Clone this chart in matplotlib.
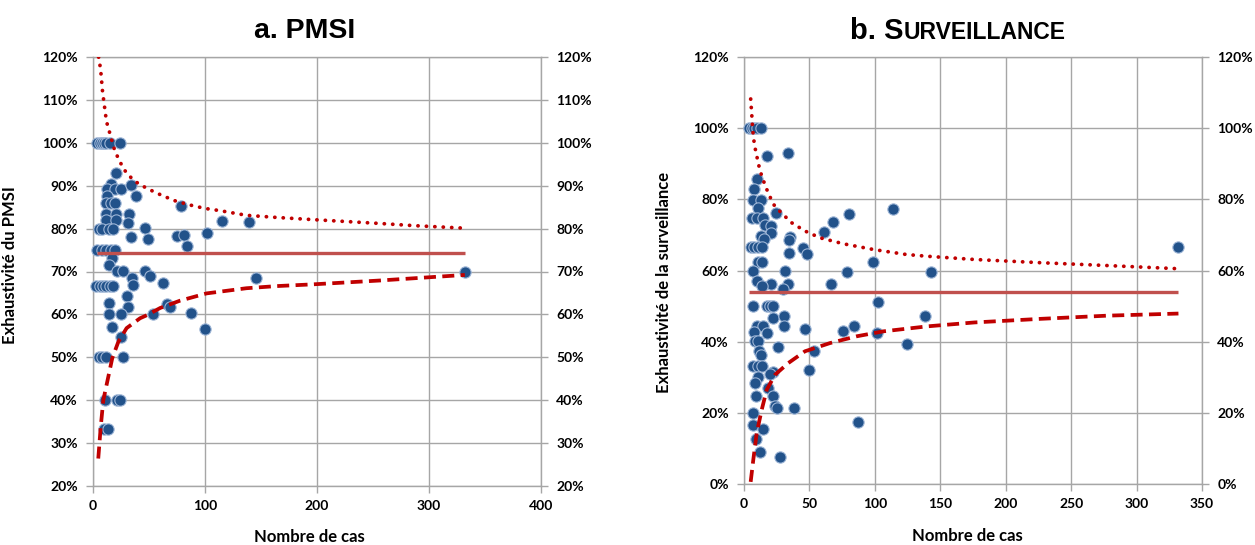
import matplotlib
matplotlib.use('Agg')
import matplotlib.pyplot as plt
from matplotlib.ticker import FuncFormatter
from matplotlib.font_manager import FontProperties
from matplotlib.offsetbox import TextArea, HPacker, AnchoredOffsetbox

# ---------------- data ----------------
# Panel a (PMSI): number of cases and completeness (%)
pmsi_n = [4, 6, 8, 10, 12, 15, 24,
          20.5, 16, 12.2, 19.6, 25, 34, 38.4, 12.2, 12, 16, 20, 11.6, 20.5, 32, 11.6, 20.5, 31,
          5, 8, 14, 18,
          46.4, 34, 48.8, 74.7, 81, 84, 102, 115, 139, 79,
          4, 8, 12, 16, 20,
          17.3, 14.6, 21.7, 27, 46.7, 51, 35, 36,
          3, 6, 9, 12, 15, 18,
          62.8, 145.5, 30.6, 14.6, 31, 66, 69, 14.6, 24.7, 54, 87.5, 16.7, 100, 24.7,
          5, 8, 12, 27,
          10.7, 21.7, 24,
          9.8, 13.7,
          332]
pmsi_pct = [100, 100, 100, 100, 100, 100, 100,
            93.0, 90.3, 89.2, 89.2, 89.2, 90.1, 87.6, 87.6, 85.9, 85.9, 85.9, 83.4, 83.4, 83.4, 82.0, 82.0, 81.2,
            80, 80, 80, 80,
            80.1, 78.1, 77.6, 78.3, 78.5, 76.0, 79.0, 81.8, 81.6, 85.3,
            75, 75, 75, 75, 75,
            73.1, 71.5, 70.1, 70.1, 70.2, 69.0, 68.4, 66.9,
            66.7, 66.7, 66.7, 66.7, 66.7, 66.7,
            67.4, 68.6, 64.4, 62.6, 61.7, 62.4, 61.8, 60.1, 60.1, 60.1, 60.3, 57.1, 56.5, 54.8,
            50, 50, 50, 50,
            40, 40, 40,
            33.3, 33.3,
            70.0]
pmsi_mean = 74.2
pmsi_mean_n = [4, 332]
pmsi_up_n = [5, 6, 7, 8.5, 10.5, 12, 15.8, 19.6, 25.6, 30, 37.5, 47.9, 61, 73, 86.6, 100, 113, 137, 164, 196, 256, 286, 332]
pmsi_up = [120, 118.5, 116.5, 112, 108, 105, 101.5, 98, 94.8, 92.9, 91, 89.4, 87.8, 86.5, 85.5, 84.7, 84.2, 83.1, 82.6, 82.1, 81.2, 80.7, 80.1]
pmsi_lo_n = [4.7, 6.9, 9.2, 13.7, 17.2, 22.6, 30, 42, 48, 60, 77.7, 101.5, 137, 164, 196, 256, 332]
pmsi_lo = [26.4, 33.8, 40, 45.5, 49.8, 53.6, 56.8, 59.1, 59.8, 61.5, 63.2, 64.9, 66.1, 66.6, 67.0, 67.9, 69.2]

# Panel b (Surveillance)
surv_n = [4, 6, 8, 10, 13,
          17.4, 33.4, 10.2, 7.6, 6.6, 12.8, 10.4, 5.9, 9.7, 14.8, 24.5, 80.3, 113.7, 68.3, 16, 20.4, 20.6,
          12.8, 15.3, 35, 34.4, 61.4, 45.3, 48.4,
          5, 8, 11, 14,
          34.4, 11, 14, 98.9, 6.6, 31.3, 79, 143, 9.7, 20.6, 33.4, 66.5, 13.5, 30,
          7.1, 17.4, 19.9, 21.9,
          102.2, 138.4, 22.4, 30.6, 9.7, 14.8, 17.8, 30.6, 7.9, 46.6, 75.5, 84.1, 101.5, 124.4, 8.4, 11,
          26.2, 11.7, 12.8, 53.5, 50, 7.1, 11, 13.5, 21.9, 19.9, 11, 8.4, 18.6, 21.9, 9.2, 23.7, 25,
          38.5, 6.6, 6.6, 14.3, 87.4, 9.2, 12.2, 27.5, 332]
surv_pct = [100, 100, 100, 100, 100,
            92.2, 92.9, 85.6, 83.0, 79.8, 79.8, 77.7, 74.8, 74.8, 74.8, 76.2, 75.8, 77.4, 73.7, 72.7, 72.5, 70.4,
            69.7, 68.9, 69.4, 68.7, 70.8, 66.4, 64.7,
            66.7, 66.7, 66.7, 66.7,
            65.0, 62.5, 62.5, 62.5, 59.8, 59.8, 59.5, 59.5, 57.0, 56.2, 56.2, 56.2, 55.6, 54.8,
            50, 50, 50, 50,
            51.2, 47.3, 46.7, 47.3, 44.3, 44.5, 42.5, 44.3, 42.6, 43.6, 42.9, 44.3, 42.4, 39.4, 40.1, 40.1,
            38.4, 37.5, 36.3, 37.5, 32.1, 33.3, 33.3, 33.3, 31.6, 30.9, 30.2, 28.5, 27.0, 24.8, 24.8, 22.0, 21.3,
            21.3, 19.9, 16.6, 15.4, 17.3, 12.6, 8.9, 7.5, 66.7]
surv_mean = 53.9
surv_mean_n = [4, 332]
surv_up_n = [5.1, 5.9, 6.6, 7.9, 9.2, 11.7, 13.5, 16.8, 19.4, 22.5, 28.8, 36.5, 46.6, 58, 76, 99, 124, 140, 176, 226, 277, 332]
surv_up = [108.2, 104, 99.7, 95.5, 93.1, 88.9, 86.6, 83.3, 81.1, 78.6, 76.1, 73.4, 71.1, 69.2, 67.5, 65.9, 64.5, 64.0, 63.1, 62.2, 61.4, 60.5]
surv_lo_n = [5.1, 7.1, 9.7, 13.5, 17.4, 23.7, 33.9, 46.6, 65.7, 86, 106.5, 140, 176, 226, 277, 332]
surv_lo = [0.6, 6.8, 14.3, 20.8, 26.5, 30.7, 34.0, 37.3, 39.6, 41.5, 42.9, 44.3, 45.4, 46.4, 47.3, 47.9]

pmsi_xticks = [0, 100, 200, 300, 400]
pmsi_yticks = [20, 30, 40, 50, 60, 70, 80, 90, 100, 110, 120]
surv_xticks = [0, 50, 100, 150, 200, 250, 300, 350]
surv_yticks = [0, 20, 40, 60, 80, 100, 120]

# ---------------- style ----------------
TICKFONT = dict(family='Lato', weight='bold', size=10)
LABFONT = dict(family='Lato', weight='bold', size=12)
GRID = '#A6A6A6'
PT_FACE = '#22528A'
PT_EDGE = '#9DB5D6'
MEAN_C = '#C0504D'
LIM_C = '#C00000'

fig = plt.figure(figsize=(12.55, 5.45), dpi=100)
ax1 = fig.add_axes([93 / 1255, 1 - 486 / 545, 448 / 1255, 429 / 545])
ax2 = fig.add_axes([744 / 1255, 1 - 484 / 545, 458 / 1255, 427 / 545])

pct_fmt = FuncFormatter(lambda v, p: f'{v:.0f}%')


def setup(ax, xt, yt, ylab, ylab_y, xlab_x):
    ax.set_xlim(xt[0], xt[-1])
    ax.set_ylim(yt[0], yt[-1])
    ax.set_xticks(xt)
    ax.set_yticks(yt)
    ax.yaxis.set_major_formatter(pct_fmt)
    ax.grid(True, color=GRID, lw=1.0, zorder=0)
    ax.set_axisbelow(True)
    for s in ax.spines.values():
        s.set_color(GRID)
        s.set_linewidth(1.0)
    ax.tick_params(axis='y', direction='out', length=5, width=1, color=GRID,
                   left=True, right=True, labelleft=True, labelright=True, pad=6)
    ax.tick_params(axis='x', direction='out', length=5, width=1, color=GRID, pad=5)
    fp = FontProperties(**TICKFONT)
    for t in ax.yaxis.get_major_ticks():
        t.label1.set_fontproperties(fp)
        t.label2.set_fontproperties(fp)
    for t in ax.xaxis.get_major_ticks():
        t.label1.set_fontproperties(fp)
    ax.set_ylabel(ylab, **LABFONT)
    ax.yaxis.set_label_coords(ylab_y[0], ylab_y[1])
    ax.set_xlabel('Nombre de cas', **LABFONT)
    ax.xaxis.set_label_coords(xlab_x[0], xlab_x[1])
    ax.xaxis.label.set_va('center')


def draw(ax, n, pct, mean, mean_n, up_n, up, lo_n, lo):
    ax.scatter(n, pct, s=66, c=PT_FACE, edgecolors=PT_EDGE, linewidths=0.8, zorder=3, clip_on=False)
    ax.plot(mean_n, [mean, mean], color=MEAN_C, lw=2.4, zorder=4, solid_capstyle='butt')
    ax.plot(up_n, up, color=LIM_C, lw=2.7, linestyle=(0, (0.05, 2.2)), dash_capstyle='round', zorder=5)
    ax.plot(lo_n, lo, color=LIM_C, lw=2.7, linestyle=(0, (3.2, 1.7)), dash_capstyle='butt', zorder=5)


draw(ax1, pmsi_n, pmsi_pct, pmsi_mean, pmsi_mean_n, pmsi_up_n, pmsi_up, pmsi_lo_n, pmsi_lo)
draw(ax2, surv_n, surv_pct, surv_mean, surv_mean_n, surv_up_n, surv_up, surv_lo_n, surv_lo)

setup(ax1, pmsi_xticks, pmsi_yticks, 'Exhaustivité du PMSI', (-0.167, 0.515), (0.484, -0.119))
setup(ax2, surv_xticks, surv_yticks, 'Exhaustivité de la surveillance', (-0.157, 0.473), (0.487, -0.122))

# titles
fig.text(305 / 1255, 1 - 31 / 545, 'a. PMSI', ha='center', va='center',
         fontsize=20.5, weight='bold', family='Liberation Sans')

big = dict(fontsize=21, weight='bold', family='Liberation Sans', color='black')
small = dict(fontsize=16.5, weight='bold', family='Liberation Sans', color='black')
pack = HPacker(children=[TextArea('b. S', textprops=big), TextArea('URVEILLANCE', textprops=small)],
               align='baseline', pad=0, sep=0)
box = AnchoredOffsetbox(loc='center', child=pack, frameon=False, pad=0, borderpad=0,
                        bbox_to_anchor=(958 / 1255, 1 - 31 / 545), bbox_transform=fig.transFigure)
fig.add_artist(box)

fig.savefig('out.png', dpi=100)
